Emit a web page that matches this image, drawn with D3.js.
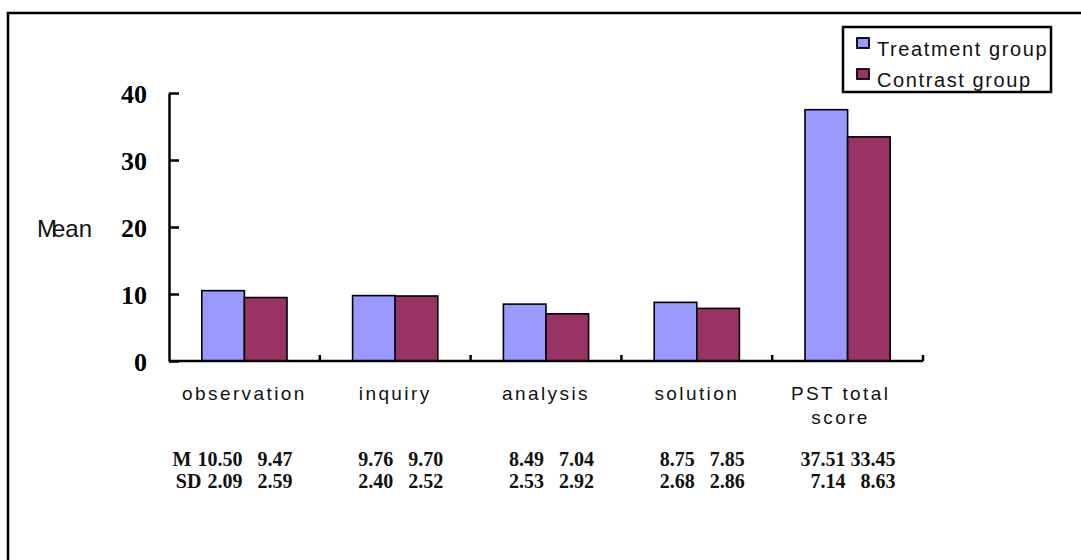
<!DOCTYPE html>
<html>
<head>
<meta charset="utf-8">
<script src="https://cdn.jsdelivr.net/npm/d3@7"></script>
<style>
  html, body { margin: 0; padding: 0; background: #fff; }
  svg { display: block; }
</style>
</head>
<body>
<svg id="chart" width="1081" height="560"></svg>
<script>
// Problem-solving test scores by subscale
const categories = ["observation", "inquiry", "analysis", "solution", "PST total score"];
const seriesNames = ["Treatment group", "Contrast group"];
const treatmentMean = [10.50, 9.76, 8.49, 8.75, 37.51];
const contrastMean  = [9.47, 9.70, 7.04, 7.85, 33.45];
const treatmentSD   = [2.09, 2.40, 2.53, 2.68, 7.14];
const contrastSD    = [2.59, 2.52, 2.92, 2.86, 8.63];
const yTicks = [0, 10, 20, 30, 40];
const colors = ["#9999FF", "#993366"];

const svg = d3.select("#chart");
const W = 1081, H = 560;

svg.append("rect").attr("width", W).attr("height", H).attr("fill", "#fff");

// frame (open at right and bottom, runs past the page edge)
svg.append("rect")
  .attr("x", 8).attr("y", 13)
  .attr("width", W + 20).attr("height", H + 20)
  .attr("fill", "none").attr("stroke", "#000").attr("stroke-width", 2.5);

const plot = { left: 169, right: 923, top: 93, bottom: 361 };

const x = d3.scaleBand()
  .domain(categories)
  .range([plot.left, plot.right])
  .paddingInner(0).paddingOuter(0);

const groupFrac = 0.565;
const xs = d3.scaleBand()
  .domain(seriesNames)
  .range([0, x.bandwidth() * groupFrac])
  .padding(0);

const y = d3.scaleLinear().domain([0, 40]).range([plot.bottom, plot.top]);

const serif = "'Liberation Serif', 'Times New Roman', serif";
const sans = "'Liberation Sans', Arial, sans-serif";

// bars
const rows = categories.map((c, i) => ({ c, vals: [treatmentMean[i], contrastMean[i]] }));
const groups = svg.append("g").selectAll("g").data(rows).join("g")
  .attr("transform", d => `translate(${x(d.c) + (x.bandwidth() - x.bandwidth() * groupFrac) / 2},0)`);
groups.selectAll("rect")
  .data(d => d.vals.map((v, k) => ({ v, k })))
  .join("rect")
  .attr("x", d => xs(seriesNames[d.k]))
  .attr("width", xs.bandwidth())
  .attr("y", d => y(d.v))
  .attr("height", d => y(0) - y(d.v))
  .attr("fill", d => colors[d.k])
  .attr("stroke", "#000").attr("stroke-width", 1.6);

// y axis: ticks point into the plot, labels on the left
const yAxis = d3.axisLeft(y).tickValues(yTicks).tickSizeInner(-10).tickSizeOuter(0).tickPadding(22)
  .tickFormat(d3.format("d"));
const gy = svg.append("g").attr("transform", `translate(${plot.left},0)`).call(yAxis);
gy.select(".domain").attr("stroke", "#000").attr("stroke-width", 2.5);
gy.selectAll(".tick line").attr("stroke", "#000").attr("stroke-width", 2.5);
gy.selectAll(".tick text")
  .attr("font-family", serif)
  .attr("font-weight", "bold").attr("font-size", 26).attr("fill", "#000")
  .attr("dy", "0.35em");

// x axis: baseline with tick marks at category boundaries, pointing up
const gx = svg.append("g").attr("transform", `translate(0,${plot.bottom})`);
gx.append("line").attr("x1", plot.left).attr("x2", plot.right)
  .attr("stroke", "#000").attr("stroke-width", 2.5);
gx.selectAll("line.bound")
  .data(categories)
  .join("line").attr("class", "bound")
  .attr("x1", d => x(d) + x.bandwidth()).attr("x2", d => x(d) + x.bandwidth())
  .attr("y1", 0).attr("y2", -6)
  .attr("stroke", "#000").attr("stroke-width", 2.5);

// category labels (wrapped to fit the band)
const catText = svg.append("g").selectAll("text").data(categories).join("text")
  .attr("x", d => x(d) + x.bandwidth() / 2)
  .attr("y", 400)
  .attr("text-anchor", "middle")
  .attr("font-family", sans).attr("font-size", 19)
  .attr("letter-spacing", 2.4).attr("fill", "#111");
catText.each(function (d) {
  const t = d3.select(this);
  const words = d.split(" ");
  const lines = [];
  let line = [];
  const probe = t.append("tspan");
  words.forEach(w => {
    const trial = line.concat(w).join(" ");
    probe.text(trial);
    if (line.length && probe.node().getComputedTextLength() > 115) {
      lines.push(line.join(" "));
      line = [w];
    } else {
      line.push(w);
    }
  });
  lines.push(line.join(" "));
  probe.remove();
  lines.forEach((l, i) => {
    t.append("tspan").attr("x", x(d) + x.bandwidth() / 2 - (lines.length > 1 ? 7 : 0))
      .attr("dy", i === 0 ? 0 : 24).text(l);
  });
});

// axis title (the "e" tucks under the "M")
svg.append("text").attr("x", 37).attr("y", 237)
  .attr("dx", "0 -5")
  .attr("font-family", sans).attr("font-size", 24).attr("fill", "#111")
  .text("Mean");

// descriptive statistics under each category
const fmt = d3.format(".2f");
const statRows = [
  { label: "M",  y: 466, a: treatmentMean, b: contrastMean },
  { label: "SD", y: 488, a: treatmentSD,   b: contrastSD }
];
const stats = svg.append("g")
  .attr("font-family", serif).attr("font-weight", "bold")
  .attr("font-size", 20).attr("fill", "#111");
statRows.forEach(r => {
  let firstStart = null;
  categories.forEach((c, i) => {
    const cx = x(c) + x.bandwidth() / 2;
    const t1 = stats.append("text").attr("x", cx - 2).attr("y", r.y).attr("text-anchor", "end").text(fmt(r.a[i]));
    stats.append("text").attr("x", cx + 48).attr("y", r.y).attr("text-anchor", "end").text(fmt(r.b[i]));
    if (i === 0) firstStart = t1.node().getBBox().x;
  });
  stats.append("text").attr("x", firstStart - 6).attr("y", r.y)
    .attr("text-anchor", "end").text(r.label);
});

// legend
const lg = svg.append("g");
lg.append("rect").attr("x", 843).attr("y", 27).attr("width", 208).attr("height", 65)
  .attr("fill", "#fff").attr("stroke", "#000").attr("stroke-width", 2.5);
seriesNames.forEach((s, i) => {
  const yy = 38 + i * 31;
  lg.append("rect").attr("x", 857).attr("y", yy).attr("width", 12).attr("height", 10)
    .attr("fill", colors[i]).attr("stroke", "#000").attr("stroke-width", 1.8);
  lg.append("text").attr("x", 877).attr("y", yy + 18)
    .attr("font-family", sans).attr("font-size", 20).attr("letter-spacing", 1.6)
    .attr("fill", "#111").text(s);
});
</script>
</body>
</html>
